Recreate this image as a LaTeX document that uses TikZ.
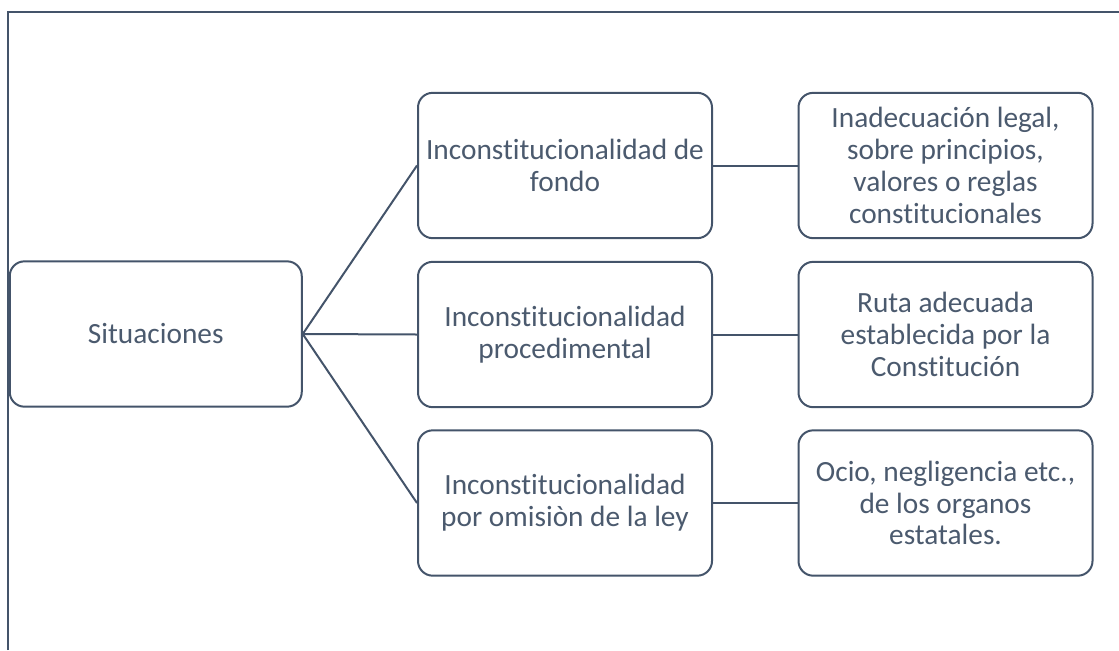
\documentclass[tikz,border=0pt]{standalone}
\usepackage{fontspec}
\setmainfont{Carlito}[Ligatures=CommonOff]
\definecolor{slate}{HTML}{44546A}
\definecolor{txt}{HTML}{4B5A6E}
\begin{document}
\begin{tikzpicture}[x=0.75pt,y=-0.75pt,
  boxx/.style={draw=slate, line width=1.5pt, rounded corners=11pt, fill=white,
    minimum width=220.5pt, minimum height=109pt, align=center, inner sep=0pt,
    text=txt, font=\fontsize{22pt}{23.8pt}\selectfont},
  link/.style={draw=slate, line width=1.5pt}]
\useasboundingbox (0,0) rectangle (1119,650);
\draw[slate, line width=1.6pt] (8,650) -- (8,12) -- (1119,12);
\node[boxx, minimum width=219pt] (sit) at (155.75,334) {Situaciones};
\node[boxx] (m1) at (565,165.5) {Inconstitucionalidad de\\fondo};
\node[boxx] (m2) at (565,334.5) {Inconstitucionalidad\\procedimental};
\node[boxx] (m3) at (565,503) {Inconstitucionalidad\\por omisiòn de la ley};
\node[boxx] (r1) at (945.5,165.5) {Inadecuación legal,\\sobre principios,\\valores o reglas\\constitucionales};
\node[boxx] (r2) at (945.5,334.5) {Ruta adecuada\\establecida por la\\Constitución};
\node[boxx] (r3) at (945.5,503) {Ocio, negligencia etc.,\\de los organos\\estatales.};
\draw[link] (sit.east) -- (m1.west);
\draw[link] (sit.east) -- (m2.west);
\draw[link] (sit.east) -- (m3.west);
\draw[link] (m1.east) -- (r1.west);
\draw[link] (m2.east) -- (r2.west);
\draw[link] (m3.east) -- (r3.west);
\end{tikzpicture}
\end{document}
